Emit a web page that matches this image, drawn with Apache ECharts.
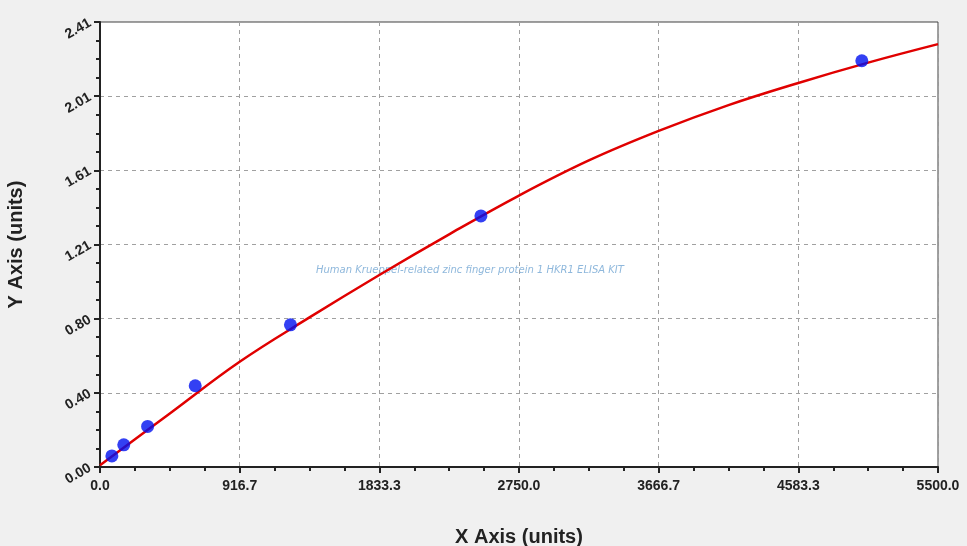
<!DOCTYPE html>
<html>
<head>
<meta charset="utf-8">
<script src="https://cdn.jsdelivr.net/npm/echarts@6/dist/echarts.min.js"></script>
<style>
  html, body { margin: 0; padding: 0; background: #f0f0f0; }
  #chart { width: 967px; height: 546px; }
</style>
</head>
<body>
<div id="chart"></div>
<script>
// standard points (concentration, OD)
var stdX = [78, 156, 312.5, 625, 1250, 2500, 5000];
var stdY = [0.06, 0.12, 0.22, 0.44, 0.77, 1.36, 2.20];

// fitted curve
var curveX = [0, 458.3, 916.7, 1375, 1833.3, 2291.7, 2750, 3208.3, 3666.7, 4125, 4583.3, 5041.7, 5500];
var curveY = [0.01, 0.29, 0.57, 0.81, 1.04, 1.26, 1.47, 1.66, 1.82, 1.96, 2.08, 2.19, 2.29];

// tick labels
var xTicks = ['0.0', '916.7', '1833.3', '2750.0', '3666.7', '4583.3', '5500.0'];
var yTicks = ['0.00', '0.40', '0.80', '1.21', '1.61', '2.01', '2.41'];

var xMax = 5500, yMax = 2.41;
var xStep = xMax / 6, yStep = yMax / 6;

(function () {
  var myChart = echarts.init(document.getElementById('chart'));

  var curve = curveX.map(function (x, i) { return [x, curveY[i]]; });
  var pts = stdX.map(function (x, i) { return [x, stdY[i]]; });

  var option = {
    backgroundColor: '#f0f0f0',
    animation: false,
    grid: {
      left: 100, right: 29, top: 22, bottom: 79,
      outerBoundsMode: 'none', containLabel: false,
      show: true, backgroundColor: '#ffffff',
      borderColor: '#404040', borderWidth: 1
    },
    graphic: [{
      type: 'text', left: 316, top: 265,
      style: {
        text: 'Human Krueppel-related zinc finger protein 1 HKR1 ELISA KIT',
        fill: '#8fb8dc', font: 'italic 10px "DejaVu Sans"'
      }
    }],
    xAxis: {
      type: 'value', min: 0, max: xMax, interval: xStep,
      name: 'X Axis (units)', nameLocation: 'middle', nameGap: 60,
      nameTextStyle: { fontFamily: 'Liberation Sans', fontWeight: 'bold', fontSize: 20, color: '#222' },
      axisLine: { show: true, lineStyle: { color: '#222', width: 2 } },
      axisTick: { show: true, length: 6, lineStyle: { color: '#222', width: 2 } },
      minorTick: { show: true, splitNumber: 4, length: 4, lineStyle: { color: '#222', width: 2 } },
      splitLine: { show: true, lineStyle: { color: '#a0a0a0', type: [4, 4], width: 1 } },
      axisLabel: {
        margin: 12, color: '#222', fontFamily: 'Liberation Sans', fontWeight: 'bold', fontSize: 14,
        formatter: function (v) { return xTicks[Math.round(v / xStep)]; }
      }
    },
    yAxis: {
      type: 'value', min: 0, max: yMax, interval: yStep,
      name: 'Y Axis (units)', nameLocation: 'middle', nameGap: 74,
      nameTextStyle: { fontFamily: 'Liberation Sans', fontWeight: 'bold', fontSize: 20, color: '#222' },
      axisLine: { show: true, lineStyle: { color: '#222', width: 2 } },
      axisTick: { show: true, length: 6, lineStyle: { color: '#222', width: 2 } },
      minorTick: { show: true, splitNumber: 4, length: 4, lineStyle: { color: '#222', width: 2 } },
      splitLine: { show: true, lineStyle: { color: '#a0a0a0', type: [4, 4], width: 1 } },
      axisLabel: {
        margin: 10, rotate: 30, color: '#222', fontFamily: 'Liberation Sans', fontWeight: 'bold', fontSize: 14,
        formatter: function (v) { return yTicks[Math.round(v / yStep)]; }
      }
    },
    series: [
      {
        type: 'line', data: curve, smooth: 0.4, showSymbol: false,
        lineStyle: { color: '#e00000', width: 2.5 }, z: 2
      },
      {
        type: 'scatter', data: pts, symbolSize: 13,
        itemStyle: { color: '#0010f0' }, z: 3
      }
    ]
  };

  myChart.setOption(option);
  window.addEventListener('resize', function () { myChart.resize(); });
})();
</script>
</body>
</html>
